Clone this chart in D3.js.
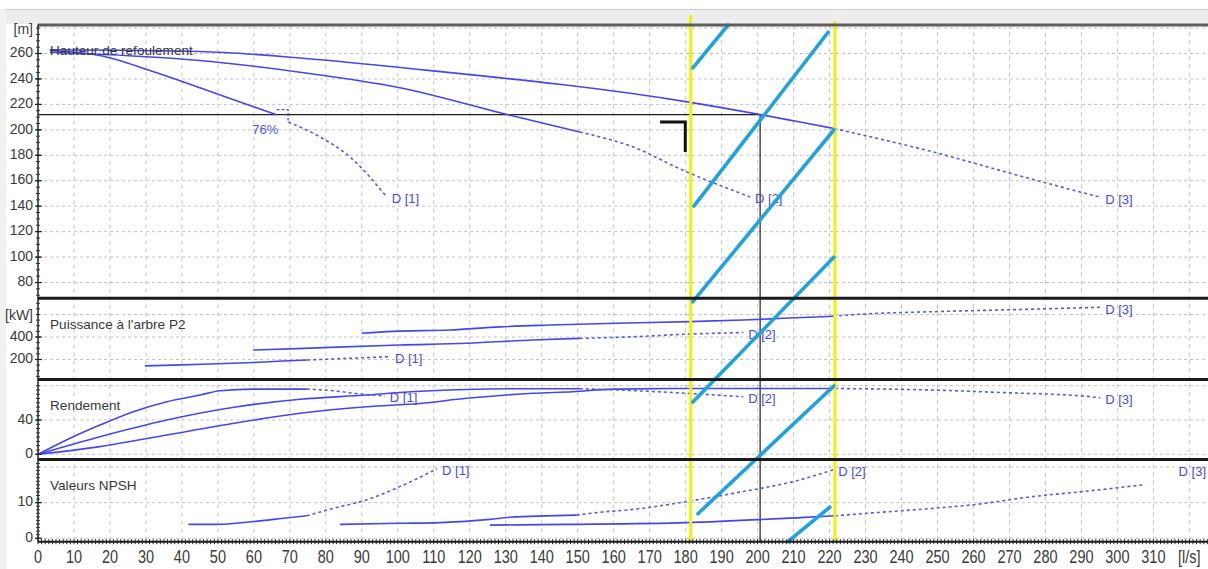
<!DOCTYPE html>
<html>
<head>
<meta charset="utf-8">
<script src="https://cdn.jsdelivr.net/npm/d3@7"></script>
<style>
  html, body { margin: 0; padding: 0; background: #ffffff; }
  svg { display: block; font-family: "Liberation Sans", Arial, sans-serif; }
</style>
</head>
<body>
<svg id="chart" width="1208" height="569"></svg>
<script>
// ---------- axis labels ----------
const flowTicks = [0,10,20,30,40,50,60,70,80,90,100,110,120,130,140,150,160,170,180,190,200,210,220,230,240,250,260,270,280,290,300,310];
const flowUnit = "[l/s]";
const flowUnitAt = 320;

const headTicks = [80,100,120,140,160,180,200,220,240,260];
const powerTicks = [200,400];
const effTicks = [0,40];
const npshTicks = [0,10];

// ---------- head curves [Q l/s, H m] ----------
const headD1Solid  = [[3.3,262.4],[17.2,258.4],[31.1,246.7],[45,233.1],[58.9,219.2],[66.3,211.9]];
const headD1Dotted = [[69.6,206.1],[78.4,194.4],[86.7,178.7],[96.9,147.3]];
const headD2Solid  = [[3.3,261],[45,254.5],[72.8,245.3],[100.6,233.1],[131.2,211.4],[150.6,198.3]];
const headD2Dotted = [[150.6,198.3],[165.4,186.5],[179.3,168.2],[197.9,147.3]];
const headD3Solid  = [[3.3,262.9],[45,261.6],[72.8,256.5],[100.6,249],[181.3,221.6],[200.7,212],[211.8,206.1],[221.3,201]];
const headD3Dotted = [[221.3,201],[248.8,182.6],[272,164.5],[295.2,147]];

// ---------- shaft power curves [Q l/s, P2 kW] ----------
const powerD1Solid  = [[29.7,143],[40,152],[50,162],[60,173],[68,186],[74.8,195]];
const powerD1Dotted = [[74.8,195],[82,205],[90,215],[97.8,225]];
const powerD2Solid  = [[59.8,284],[72,297],[100.6,329],[119,344],[137.6,373],[150.6,388]];
const powerD2Dotted = [[150.6,388],[165.4,402],[180.3,425],[196,440]];
const powerD3Solid  = [[90,433],[98.7,450],[114.5,462],[128.4,490],[142.3,506],[160.8,522],[181.2,537],[196,551],[207,566],[221,585]];
const powerD3Dotted = [[221,585],[228.5,602],[248.7,625],[267.4,640],[295.2,664]];

// ---------- efficiency curves [Q l/s, %] ----------
const effD1Solid  = [[0,0],[7.9,16.7],[17.2,34.1],[26.5,49.7],[35.8,61.3],[45,69.1],[50.6,74.1],[59.8,76],[66.3,76],[74.7,76]];
const effD1Dotted = [[74.7,76],[82,74.1],[89.5,70.3],[96.4,68]];
const effD2Solid  = [[0,0],[17.2,20.5],[35.8,40],[54.5,54.8],[72.8,64.1],[91.3,69.1],[100.6,72],[119,75.5],[135,76.5],[150.6,76.5]];
const effD2Dotted = [[150.6,76.5],[161.8,74.9],[180.3,71.1],[196,67.1]];
const effD3Solid  = [[0,0],[17.2,8.9],[35.8,22.5],[54.5,36.1],[72.8,47.8],[91.3,55.5],[106.2,59.3],[119.1,65.3],[137.6,71.1],[148.7,73],[160,76],[180,76.7],[200,76.7],[221.5,76.7]];
const effD3Dotted = [[221.5,76.7],[248.7,74.9],[268,72],[291.5,67.5],[295.2,66]];

// ---------- NPSH curves [Q l/s, m] ----------
const npshD1Solid  = [[41.8,3.9],[49.7,3.9],[59.8,4.7],[68.2,5.6],[74.7,6.3]];
const npshD1Dotted = [[74.7,6.3],[82.1,8.4],[91.4,10.8],[100.6,14.5],[110.9,19.5]];
const npshD2Solid  = [[83.9,3.9],[100.6,4.2],[111.7,4.4],[125.6,5.3],[131.2,5.9],[149.7,6.5]];
const npshD2Dotted = [[149.7,6.5],[156.2,7.3],[165.4,8.1],[180.3,10.3],[193.2,12.6],[211.8,16.4],[221,19.2]];
const npshD3Solid  = [[125.6,3.7],[146.9,3.9],[180.3,4.4],[211.8,5.8],[221.5,6.3]];
const npshD3Dotted = [[221.5,6.3],[230.3,7],[248.8,8.4],[259.9,9.4],[276.5,11.7],[290.4,13.1],[307.2,15]];

const curveNames = ["D [1]","D [2]","D [3]"];

// ---------- duty point and operating range ----------
const dutyFlow = 200.7;
const dutyHead = 212;
const rangeMinFlow = 181.4;
const rangeMaxFlow = 221.5;
const d1DutyFlow = 66.3;
const d1DutyEff = 76;

// hatch strokes inside the operating range: [Q, % of plot height from top]
const hatchStrokes = [
  [[182.0,8.4],[191.8,0.1]],
  [[182.3,35.1],[219.6,1.5]],
  [[182.0,53.6],[221.2,20.4]],
  [[182.0,73.0],[221.2,45.0]],
  [[183.4,94.6],[221.2,69.9]],
  [[208.4,100],[220.1,93.3]]
];

// ---------- layout ----------
const svg = d3.select("#chart");
const plotLeft = 38, plotRight = 1207.5, plotTop = 24.5, plotBottom = 541.7;

const x = d3.scaleLinear().domain([0, 325]).range([plotLeft, plotLeft + 325 * 3.598]);
const yFrac = d3.scaleLinear().domain([0, 100]).range([plotTop, plotBottom]);

const panels = {
  head:  { top: 24.5,  bottom: 298.3, y: d3.scaleLinear().domain([67.6, 282.8]).range([298.3, 24.5]),
           ticks: headTicks, grid: [80,100,120,140,160,180,200,220,240,260,280], minor: 5, unit: "[m]", unitAt: 280,
           title: "Hauteur de refoulement" },
  power: { top: 298.3, bottom: 379.5, y: d3.scaleLinear().domain([22.2, 744]).range([379.5, 298.3]),
           ticks: powerTicks, grid: [200,400,600], minor: 50, unit: "[kW]", unitAt: 600,
           title: "Puissance \u00e0 l'arbre P2" },
  eff:   { top: 379.5, bottom: 459.5, y: d3.scaleLinear().domain([-6.1, 87.2]).range([459.5, 379.5]),
           ticks: effTicks, grid: [0,40,80], minor: 5, unit: null,
           title: "Rendement" },
  npsh:  { top: 459.5, bottom: 541.7, y: d3.scaleLinear().domain([-0.96, 22.1]).range([541.7, 459.5]),
           ticks: npshTicks, grid: [0,10,20], minor: 1, unit: null,
           title: "Valeurs NPSH" }
};

// ---------- window frame ----------
svg.append("rect").attr("x", 0).attr("y", 0).attr("width", 1208).attr("height", 569).attr("fill", "#ffffff");
svg.append("rect").attr("x", 0).attr("y", 9).attr("width", 1208).attr("height", 15).attr("fill", "#ededed");
svg.append("line").attr("x1", 0).attr("x2", 1208).attr("y1", 9.5).attr("y2", 9.5).attr("stroke", "#c9c9e6").attr("stroke-width", 1);
svg.append("rect").attr("x", 0).attr("y", 9).attr("width", 6).attr("height", 560).attr("fill", "#f1f1f1");

const gridColor = "#c2c2c2";

// ---------- grid ----------
const gGrid = svg.append("g");
flowTicks.concat([flowUnitAt]).forEach(q => {
  if (q === 0) return;
  gGrid.append("line")
    .attr("x1", x(q)).attr("x2", x(q))
    .attr("y1", plotTop).attr("y2", plotBottom)
    .attr("stroke", gridColor).attr("stroke-width", 1).attr("stroke-dasharray", "4,4");
});

Object.values(panels).forEach(p => {
  p.grid.forEach(v => {
    gGrid.append("line")
      .attr("x1", plotLeft).attr("x2", plotRight)
      .attr("y1", p.y(v)).attr("y2", p.y(v))
      .attr("stroke", gridColor).attr("stroke-width", 1).attr("stroke-dasharray", "3,3");
  });
});

// ---------- duty point guides ----------
const head = panels.head;
svg.append("line")
  .attr("x1", plotLeft).attr("x2", x(dutyFlow))
  .attr("y1", head.y(dutyHead)).attr("y2", head.y(dutyHead))
  .attr("stroke", "#1e1e1e").attr("stroke-width", 1.2);
svg.append("line")
  .attr("x1", x(dutyFlow)).attr("x2", x(dutyFlow))
  .attr("y1", head.y(dutyHead)).attr("y2", plotBottom)
  .attr("stroke", "#1e1e1e").attr("stroke-width", 1.2);

// corner mark left of the operating range
svg.append("path")
  .attr("d", `M${x(172.9)},${head.y(206.1)}H${x(179.9)}V${head.y(182.6)}`)
  .attr("fill", "none").attr("stroke", "#111").attr("stroke-width", 3);

// ---------- curves ----------
const blue = "#4646ee";
function drawCurve(panel, pts, dotted) {
  const line = d3.line().x(d => x(d[0])).y(d => panel.y(d[1])).curve(d3.curveMonotoneX);
  svg.append("path")
    .attr("d", line(pts))
    .attr("fill", "none")
    .attr("stroke", dotted ? "#5656f0" : blue)
    .attr("stroke-width", 1.6)
    .attr("stroke-dasharray", dotted ? "3,3" : null);
}
function drawLabel(panel, pts, name, override) {
  const last = pts[pts.length - 1];
  const lx = override ? x(override[0]) : x(last[0]) + 5;
  const ly = override ? panel.y(override[1]) : panel.y(last[1]) + 3;
  svg.append("text")
    .attr("x", lx).attr("y", ly)
    .attr("dominant-baseline", "middle")
    .attr("font-size", 13)
    .attr("fill", "#4848f0")
    .text(name);
}

const sets = [
  [panels.head,  [headD1Solid, headD2Solid, headD3Solid], [headD1Dotted, headD2Dotted, headD3Dotted], [null,null,null]],
  [panels.power, [powerD1Solid, powerD2Solid, powerD3Solid], [powerD1Dotted, powerD2Dotted, powerD3Dotted], [null,null,null]],
  [panels.eff,   [effD1Solid, effD2Solid, effD3Solid], [effD1Dotted, effD2Dotted, effD3Dotted], [null,null,null]],
  [panels.npsh,  [npshD1Solid, npshD2Solid, npshD3Solid], [npshD1Dotted, npshD2Dotted, npshD3Dotted], [null,null,[317,18.3]]]
];
sets.forEach(([panel, solids, dotteds, overrides]) => {
  solids.forEach(s => drawCurve(panel, s, false));
  dotteds.forEach((d, i) => { drawCurve(panel, d, true); drawLabel(panel, d, curveNames[i], overrides[i]); });
});

// D[1] duty marker and efficiency at that point
const d1Head = headD1Solid[headD1Solid.length - 1][1];
svg.append("path")
  .attr("d", `M${x(d1DutyFlow)},${head.y(d1Head + 4)}H${x(d1DutyFlow + 3.2)}V${head.y(d1Head - 4.5)}`)
  .attr("fill", "none").attr("stroke", "#5656f0").attr("stroke-width", 1.4).attr("stroke-dasharray", "3,2");
svg.append("text")
  .attr("x", x(d1DutyFlow + 0.5)).attr("y", head.y(d1Head - 12.5))
  .attr("text-anchor", "end").attr("dominant-baseline", "middle")
  .attr("font-size", 13).attr("fill", "#5252ee")
  .text(d1DutyEff + "%");

// ---------- operating range ----------
svg.append("line")
  .attr("x1", x(rangeMinFlow)).attr("x2", x(rangeMinFlow))
  .attr("y1", 15).attr("y2", plotBottom)
  .attr("stroke", "#f4f000").attr("stroke-width", 3);
svg.append("line")
  .attr("x1", x(rangeMaxFlow)).attr("x2", x(rangeMaxFlow))
  .attr("y1", 21).attr("y2", plotBottom)
  .attr("stroke", "#f4f000").attr("stroke-width", 3);

hatchStrokes.forEach(seg => {
  svg.append("line")
    .attr("x1", x(seg[0][0])).attr("y1", yFrac(seg[0][1]))
    .attr("x2", x(seg[1][0])).attr("y2", yFrac(seg[1][1]))
    .attr("stroke", "#1ea2e0").attr("stroke-width", 3.6).attr("stroke-linecap", "round");
});

// ---------- frame lines ----------
svg.append("line").attr("x1", plotLeft).attr("x2", 1208).attr("y1", 25).attr("y2", 25)
  .attr("stroke", "#5e5e5e").attr("stroke-width", 3);
[panels.power.top, panels.eff.top, panels.npsh.top].forEach(yv => {
  svg.append("line").attr("x1", plotLeft).attr("x2", 1208).attr("y1", yv).attr("y2", yv)
    .attr("stroke", "#1a1a1a").attr("stroke-width", 3);
});

// left axis
svg.append("line").attr("x1", plotLeft).attr("x2", plotLeft).attr("y1", plotTop).attr("y2", plotBottom)
  .attr("stroke", "#222").attr("stroke-width", 1.5);
Object.values(panels).forEach(p => {
  const [d0, d1] = p.y.domain();
  for (let v = Math.ceil(d0 / p.minor) * p.minor; v <= d1; v += p.minor) {
    const yy = p.y(v);
    if (yy < p.top + 2 || yy > p.bottom - 2) continue;
    svg.append("line").attr("x1", plotLeft - 2).attr("x2", plotLeft + 2).attr("y1", yy).attr("y2", yy)
      .attr("stroke", "#333").attr("stroke-width", 1);
  }
  p.ticks.forEach(v => {
    svg.append("line").attr("x1", plotLeft - 3).attr("x2", plotLeft + 4).attr("y1", p.y(v)).attr("y2", p.y(v))
      .attr("stroke", "#222").attr("stroke-width", 1.2);
    svg.append("text").attr("x", 33).attr("y", p.y(v))
      .attr("text-anchor", "end").attr("dominant-baseline", "middle")
      .attr("font-size", 14).attr("fill", "#3a3a3a").text(v);
  });
  if (p.unit) {
    svg.append("text").attr("x", 33).attr("y", p.y(p.unitAt) + 2)
      .attr("text-anchor", "end").attr("dominant-baseline", "middle")
      .attr("font-size", 14).attr("fill", "#3a3a3a").text(p.unit);
  }
  svg.append("text").attr("x", 50).attr("y", p.top + 27)
    .attr("dominant-baseline", "middle")
    .attr("font-size", 13.6).attr("fill", "#383838").text(p.title);
});

// bottom axis
svg.append("line").attr("x1", plotLeft).attr("x2", 1208).attr("y1", plotBottom).attr("y2", plotBottom)
  .attr("stroke", "#1a1a1a").attr("stroke-width", 2);
for (let q = 0; q <= 325; q += 1) {
  svg.append("line").attr("x1", x(q)).attr("x2", x(q))
    .attr("y1", plotBottom - 2.5).attr("y2", plotBottom + 2.5)
    .attr("stroke", "#222").attr("stroke-width", 1);
}
// flow labels are drawn in a taller face than the value labels
flowTicks.map(q => [q, String(q)]).concat([[flowUnitAt, flowUnit]]).forEach(([q, txt]) => {
  svg.append("text")
    .attr("transform", `translate(${x(q)},558) scale(1,1.33)`)
    .attr("text-anchor", "middle").attr("dominant-baseline", "middle")
    .attr("font-size", 14.5).attr("fill", "#3a3a3a").text(txt);
});
</script>
</body>
</html>
